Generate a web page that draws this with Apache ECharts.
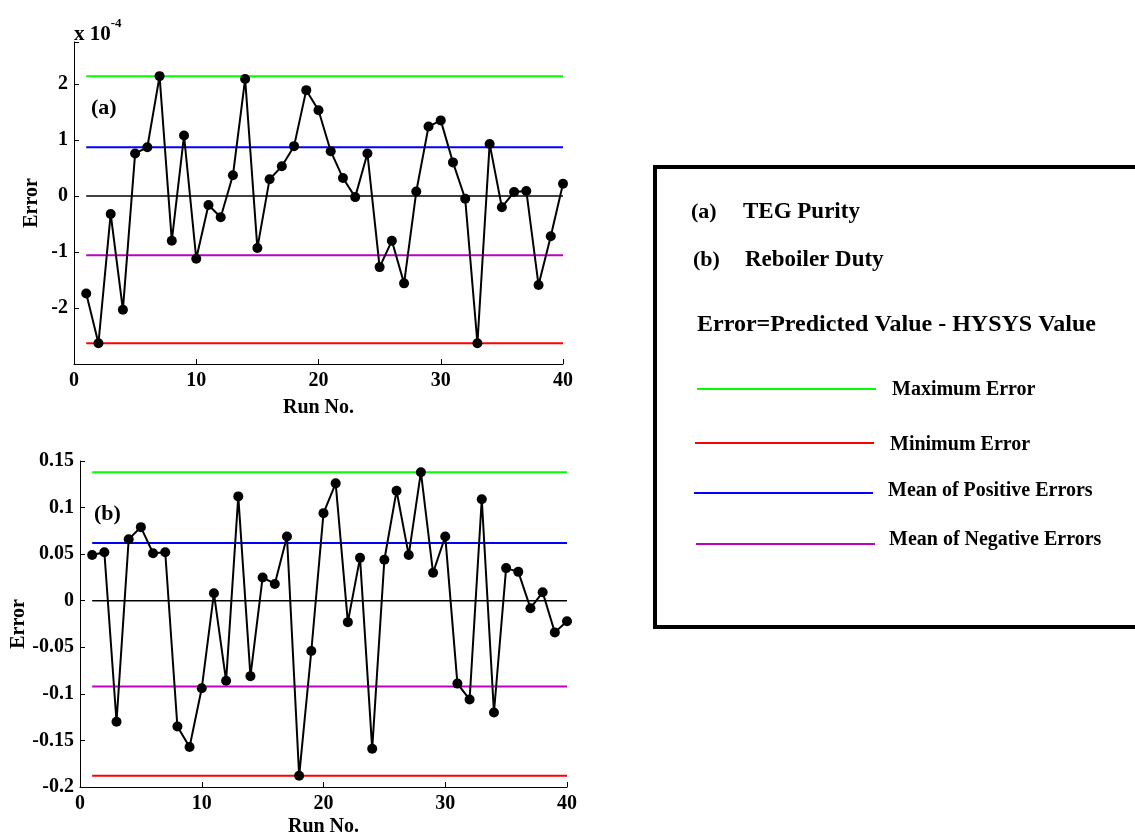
<!DOCTYPE html>
<html><head><meta charset="utf-8">
<script src="https://cdn.jsdelivr.net/npm/echarts@6/dist/echarts.min.js"></script>
<style>html,body{margin:0;padding:0;background:#fff}#c{width:1135px;height:838px}</style>
</head><body><div id="c"></div>
<script>
// Run numbers
const runs = Array.from({length: 40}, (_, i) => i + 1);
// (a) TEG Purity error, in units of 1e-4
const errA = [-1.74,-2.63,-0.32,-2.03,0.76,0.87,2.14,-0.80,1.08,-1.12,
  -0.16,-0.38,0.37,2.09,-0.93,0.30,0.53,0.89,1.89,1.53,
  0.80,0.32,-0.02,0.76,-1.27,-0.80,-1.56,0.08,1.24,1.35,
  0.60,-0.05,-2.63,0.93,-0.20,0.07,0.09,-1.59,-0.72,0.22];
// (b) Reboiler Duty error
const errB = [0.049,0.052,-0.130,0.066,0.079,0.051,0.052,-0.135,-0.157,-0.094,
  0.008,-0.086,0.112,-0.081,0.025,0.018,0.069,-0.188,-0.054,0.094,
  0.126,-0.023,0.046,-0.159,0.044,0.118,0.049,0.138,0.030,0.069,
  -0.089,-0.106,0.109,-0.120,0.035,0.031,-0.008,0.009,-0.034,-0.022];
// Reference lines
const refA = {max: 2.14, meanPos: 0.87, zero: 0, meanNeg: -1.06, min: -2.63};
const refB = {max: 0.138, meanPos: 0.062, zero: 0, meanNeg: -0.092, min: -0.188};
const refColors = {max: '#00ff00', meanPos: '#0000ff', zero: '#000000', meanNeg: '#bf00bf', min: '#ff0000'};
const xTicks = [0, 10, 20, 30, 40];

const FONT = '"Liberation Serif", "Times New Roman", serif';
const chart = echarts.init(document.getElementById('c'));

function axisCommon() {
  return {
    axisLine: {show: true, onZero: false, lineStyle: {color: '#000', width: 1}},
    axisTick: {show: true, inside: true, length: 5, lineStyle: {color: '#000'}},
    splitLine: {show: false},
    axisLabel: {color: '#000', fontFamily: FONT, fontWeight: 'bold', fontSize: 20},
    nameTextStyle: {color: '#000', fontFamily: FONT, fontWeight: 'bold', fontSize: 20}
  };
}

const grids = [
  {left: 74, top: 42, width: 489, height: 322},
  {left: 80, top: 461, width: 487, height: 327}
];

const xAxes = [0, 1].map(i => Object.assign(axisCommon(), {
  type: 'value', gridIndex: i, min: 0, max: 40, interval: 10,
  name: 'Run No.', nameLocation: 'middle', nameGap: i === 0 ? 34 : 30,
  axisLabel: Object.assign(axisCommon().axisLabel, {margin: 7,
    formatter: v => xTicks.includes(v) ? String(v) : ''})
}));

const yAxes = [
  Object.assign(axisCommon(), {
    type: 'value', gridIndex: 0, min: -3, max: 2.75, interval: 1,
    name: 'Error', nameLocation: 'middle', nameGap: 32, nameRotate: 90,
    axisLabel: Object.assign(axisCommon().axisLabel, {margin: 6,
      formatter: v => (v === -3 || v === 2.75) ? '' : String(v)})
  }),
  Object.assign(axisCommon(), {
    type: 'value', gridIndex: 1, min: -0.2, max: 0.15, interval: 0.05,
    name: 'Error', nameLocation: 'middle', nameGap: 51, nameRotate: 90,
    axisLabel: Object.assign(axisCommon().axisLabel, {margin: 6,
      formatter: v => String(+v.toFixed(2))})
  })
];

const series = [];
[[refA, 0], [refB, 1]].forEach(([ref, gi]) => {
  Object.keys(ref).forEach(k => {
    series.push({
      type: 'line', xAxisIndex: gi, yAxisIndex: gi, symbol: 'none', silent: true,
      lineStyle: {color: refColors[k], width: k === 'zero' ? 1.5 : 2},
      data: [[runs[0], ref[k]], [runs[runs.length - 1], ref[k]]], z: 1
    });
  });
});
[[errA, 0], [errB, 1]].forEach(([arr, gi]) => {
  series.push({
    type: 'line', xAxisIndex: gi, yAxisIndex: gi, symbol: 'circle', symbolSize: 10,
    itemStyle: {color: '#000'}, lineStyle: {color: '#000', width: 2},
    data: runs.map((r, i) => [r, arr[i]]), z: 3
  });
});

const T = (x, y, text, size) => ({
  type: 'text', x, y,
  style: {text, fill: '#000', font: 'bold ' + size + 'px ' + FONT, verticalAlign: 'middle'}
});

const legendItems = [
  ['max', 'Maximum Error', 389, 697, 892, 390],
  ['min', 'Minimum Error', 443, 695, 890, 445],
  ['meanPos', 'Mean of Positive Errors', 493, 694, 888, 491],
  ['meanNeg', 'Mean of Negative Errors', 544, 696, 889, 540]
];

const graphic = [
  {type: 'rect', shape: {x: 655, y: 167, width: 490, height: 460},
   style: {fill: 'none', stroke: '#000', lineWidth: 4}},
  {type: 'text', x: 74, y: 12,
   style: {rich: {b: {font: 'bold 21px ' + FONT, fill: '#000', padding: [12, 0, 0, 0]},
                  s: {font: 'bold 13px ' + FONT, fill: '#000', padding: [0, 0, 10, 0]}},
           text: '{b|x 10}{s|-4}'}},
  T(91, 108, '(a)', 22),
  T(94, 514, '(b)', 22),
  T(691, 212, '(a)', 22), T(743, 212, 'TEG Purity', 23),
  T(693, 260, '(b)', 22), T(745, 260, 'Reboiler Duty', 23),
  T(697, 325, 'Error=Predicted Value - HYSYS Value', 24)
];
legendItems.forEach(([k, label, y, x0, tx, ty]) => {
  graphic.push({type: 'line', shape: {x1: x0, y1: y, x2: x0 + 179, y2: y},
    style: {stroke: refColors[k], lineWidth: 2}});
  graphic.push(T(tx, ty, label, 20));
});

chart.setOption({
  animation: false,
  backgroundColor: '#fff',
  grid: grids,
  xAxis: xAxes,
  yAxis: yAxes,
  series,
  graphic
});
</script></body></html>
